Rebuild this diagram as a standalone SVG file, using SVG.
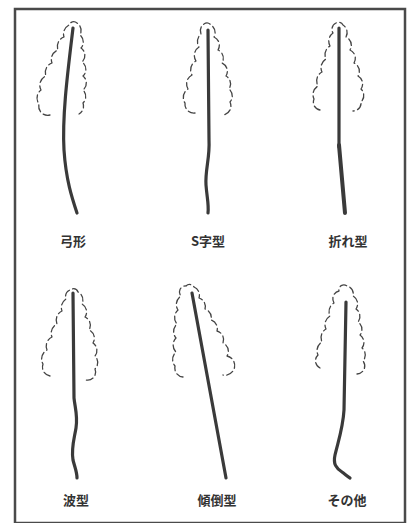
<svg xmlns="http://www.w3.org/2000/svg" width="410" height="523" viewBox="0 0 410 523">
  <style>
    .frame { fill: none; stroke: #4a4a4a; stroke-width: 2.5; }
    .crown { fill: none; stroke: #444; stroke-width: 1.3; stroke-dasharray: 7 3.5; stroke-linecap: round; stroke-linejoin: round; }
    .stem { fill: none; stroke: #3a3a3a; stroke-width: 3.2; stroke-linecap: round; stroke-linejoin: round; }
    .label { font-family: "Noto Sans CJK JP", "Noto Sans", sans-serif; font-size: 13px; font-weight: bold; fill: #333; text-anchor: middle; }
  </style>
  <rect width="410" height="523" fill="#ffffff"/>
  <rect class="frame" x="15" y="9" width="390" height="514"/>

  <!-- crowns are scalloped outlines: small outward arcs between points -->
  <g id="yumigata">
    <path class="crown" d="M50,115 A9,9 0 0 1 39,104 A10,10 0 0 1 41,90 A10,10 0 0 1 46,76 A10,10 0 0 1 52,63 A10,10 0 0 1 58,50 A10,10 0 0 1 64,37 A10,10 0 0 1 69,25 A5,5 0 0 1 77,23 A9,9 0 0 1 80,35 A9,9 0 0 1 81,48 A9,9 0 0 1 82,62 A9,9 0 0 1 83,76 A9,9 0 0 1 83,90 A9,9 0 0 1 83,103 A9,9 0 0 1 79,114"/>
    <path class="stem" d="M73,28 C68,70 62,115 64,150 C66,180 72,198 77,213"/>
    <text class="label" x="73" y="246">弓形</text>
  </g>

  <g id="s-jigata">
    <path class="crown" d="M195,113 A9,9 0 0 1 185,103 A10,10 0 0 1 188,89 A10,10 0 0 1 192,75 A10,10 0 0 1 196,61 A10,10 0 0 1 199,47 A10,10 0 0 1 201,34 A8,8 0 0 1 204,24 A5,5 0 0 1 211,25 A9,9 0 0 1 214,37 A9,9 0 0 1 218,50 A9,9 0 0 1 222,63 A9,9 0 0 1 226,76 A9,9 0 0 1 229,89 A9,9 0 0 1 230,102 A9,9 0 0 1 222,115"/>
    <path class="stem" d="M208,30 L209,140 C210,158 205,170 206,185 C207,198 209,205 208,213"/>
    <text class="label" x="208" y="246">S字型</text>
  </g>

  <g id="oregata">
    <path class="crown" d="M320,110 A8,8 0 0 1 314,99 A10,10 0 0 1 318,86 A10,10 0 0 1 322,72 A10,10 0 0 1 326,59 A10,10 0 0 1 330,46 A10,10 0 0 1 333,33 A7,7 0 0 1 336,23 A5,5 0 0 1 343,25 A9,9 0 0 1 346,37 A9,9 0 0 1 350,50 A9,9 0 0 1 354,63 A9,9 0 0 1 358,76 A9,9 0 0 1 361,89 A9,9 0 0 1 361,102 A8,8 0 0 1 353,111"/>
    <path class="stem" d="M339,28 L339,147"/>
    <path class="stem" style="stroke-width:4" d="M339,145 L345,213"/>
    <text class="label" x="348" y="246">折れ型</text>
  </g>

  <g id="namigata">
    <path class="crown" d="M50,376 A9,9 0 0 1 43,364 A10,10 0 0 1 47,350 A10,10 0 0 1 52,337 A10,10 0 0 1 57,324 A10,10 0 0 1 62,311 A10,10 0 0 1 66,299 A7,7 0 0 1 70,290 A5,5 0 0 1 78,292 A9,9 0 0 1 82,304 A9,9 0 0 1 85,317 A9,9 0 0 1 89,330 A9,9 0 0 1 93,343 A9,9 0 0 1 95,356 A9,9 0 0 1 95,369 A8,8 0 0 1 86,380"/>
    <path class="stem" d="M73,293 L74,398 C75,408 78,416 76,428 C74,440 71,448 73,460 C75,468 77,472 77,478"/>
    <text class="label" x="76" y="505">波型</text>
  </g>

  <g id="keitougata">
    <path class="crown" d="M183,377 A9,9 0 0 1 175,366 A10,10 0 0 1 176,352 A10,10 0 0 1 176,338 A10,10 0 0 1 177,324 A10,10 0 0 1 178,310 A10,10 0 0 1 181,296 A6,6 0 0 1 186,286 A5,5 0 0 1 194,287 A9,9 0 0 1 199,298 A9,9 0 0 1 205,309 A9,9 0 0 1 211,320 A9,9 0 0 1 217,331 A9,9 0 0 1 223,343 A9,9 0 0 1 227,356 A9,9 0 0 1 223,375"/>
    <path class="stem" d="M192,293 L226,478"/>
    <text class="label" x="217" y="505">傾倒型</text>
  </g>

  <g id="sonota">
    <path class="crown" d="M320,368 A8,8 0 0 1 318,355 A10,10 0 0 1 322,342 A10,10 0 0 1 326,329 A10,10 0 0 1 330,316 A10,10 0 0 1 334,303 A8,8 0 0 1 339,291 A5,5 0 0 1 347,286 A8,8 0 0 1 353,296 A9,9 0 0 1 356,309 A9,9 0 0 1 358,322 A9,9 0 0 1 360,335 A9,9 0 0 1 362,348 A9,9 0 0 1 363,361 A8,8 0 0 1 357,374"/>
    <path class="stem" d="M346,302 L344,410 C343,428 338,442 335,455 C333,464 336,468 342,472 C346,475 348,477 350,478"/>
    <text class="label" x="347" y="505">その他</text>
  </g>
</svg>
